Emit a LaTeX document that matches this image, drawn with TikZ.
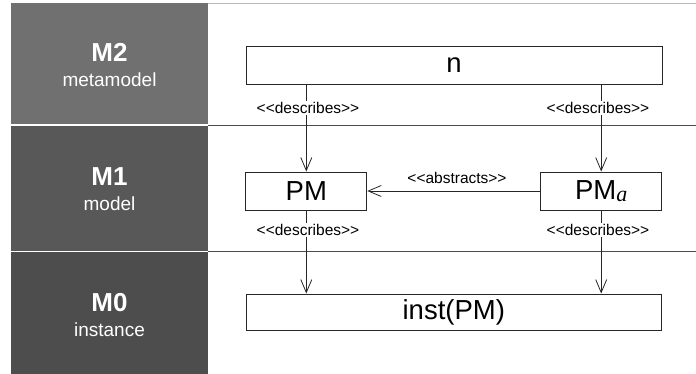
\documentclass[tikz,border=0pt]{standalone}
\usepackage{fontspec}
\setmainfont{Liberation Sans}
\newfontfamily\subfont{Liberation Serif}
\usetikzlibrary{arrows.meta}
\definecolor{lvltwo}{HTML}{707070}
\definecolor{lvlone}{HTML}{585858}
\definecolor{lvlzero}{HTML}{4D4D4D}
\newcommand\stname[1]{<\kern0pt<#1>\kern0pt>}
\begin{document}
\begin{tikzpicture}[x=1pt,y=-1pt,
  elem/.style={draw=black!85, line width=0.9pt, fill=white, inner sep=0pt,
    font=\fontsize{27.5}{30}\selectfont},
  arr/.style={draw=black!85, line width=0.8pt,
    -{Straight Barb[length=13pt,width=11pt,line width=0.8pt]}},
  stereotype/.style={fill=white, inner sep=1.5pt, font=\fontsize{15.5}{18}\selectfont},
  sepline/.style={draw=black!70, line width=1.1pt},
  lvl/.style={text=white, anchor=base, font=\bfseries\fontsize{26}{30}\selectfont},
  lvlsub/.style={text=white, anchor=base, font=\fontsize{19}{22}\selectfont}]
\useasboundingbox (0,0) rectangle (696,374);
\fill[white] (0,0) rectangle (696,374);

% level bands on the left
\fill[lvltwo]  (11,3)   rectangle (208,124.5);
\fill[lvlone]  (11,126) rectangle (208,250.5);
\fill[lvlzero] (11,252) rectangle (208,374);

\node[lvl]    (m2)  at (109.5,62)  {M2};
\node[lvlsub] (m2s) at (109.5,87)  {metamodel};
\node[lvl]    (m1)  at (109.5,186) {M1};
\node[lvlsub] (m1s) at (109.5,211) {model};
\node[lvl]    (m0)  at (109.5,311) {M0};
\node[lvlsub] (m0s) at (109.5,336) {instance};

% level separators on the right
\draw[draw=gray!55, line width=0.8pt] (208,3) -- (696,3);
\draw[sepline] (208,125.3) -- (696,125.3);
\draw[sepline] (208,251.3) -- (696,251.3);

% elements
\node[elem, minimum width=416pt, minimum height=38pt] (n)    at (454,65)    {n};
\node[elem, minimum width=121pt, minimum height=38pt] (pm)   at (306.3,191) {PM};
\node[elem, minimum width=121pt, minimum height=38pt] (pma)  at (601.2,191)
  {PM\raisebox{-2.5pt}{\fontsize{22}{24}\subfont\itshape a}};
\node[elem, minimum width=415pt, minimum height=36pt] (inst) at (453.8,312) {inst(PM)};

% relations
\draw[arr] (n.south -| pm) -- (pm.north);
\draw[arr] (n.south -| pma) -- (pma.north);
\draw[arr] (pm.south) -- (inst.north -| pm);
\draw[arr] (pma.south) -- (inst.north -| pma);
\draw[arr] (pma.west) -- (pm.east);

\node[stereotype] (d1) at (308,108) {\stname{describes}};
\node[stereotype] (d2) at (598,108) {\stname{describes}};
\node[stereotype] (d3) at (308,230) {\stname{describes}};
\node[stereotype] (d4) at (598,230) {\stname{describes}};
\node[font=\fontsize{15.5}{18}\selectfont] (ab) at (457,178) {\stname{abstracts}};
\end{tikzpicture}
\end{document}
